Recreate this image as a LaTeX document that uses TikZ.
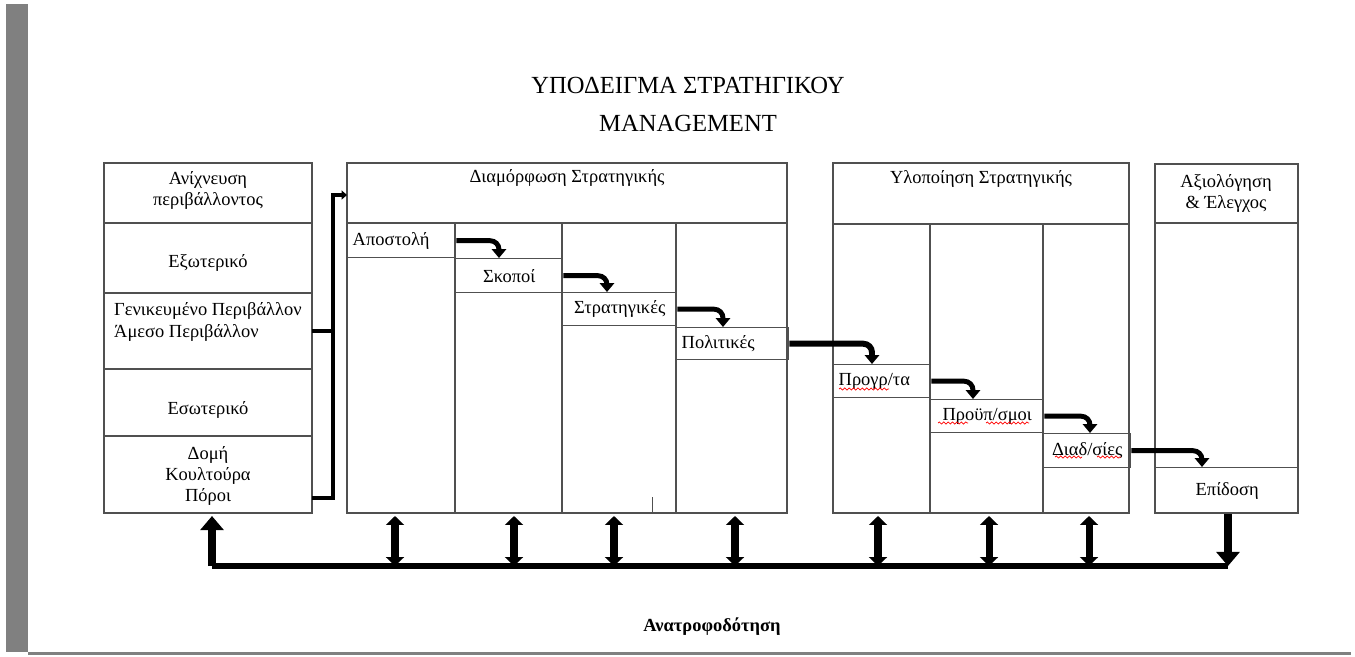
\documentclass[tikz,border=0pt]{standalone}
\usepackage{fontspec}
\setmainfont{Liberation Serif}
\usetikzlibrary{arrows.meta,decorations.pathmorphing}
\definecolor{pagegray}{HTML}{808080}
\definecolor{boxline}{HTML}{505050}

\tikzset{
  frame/.style={draw=boxline, line width=0.8pt},
  cell/.style={draw=boxline, line width=0.8pt, inner sep=0pt, anchor=north west},
  leftcell/.style={cell, align=left, inner xsep=0.1cm, text width=#1},
  flow/.style={line width=2.8pt, rounded corners=5pt, -{Triangle[length=5pt,width=8pt]}},
  link/.style={line width=2.2pt},
  both/.style={line width=4pt, {Triangle[length=5pt,width=10pt]}-{Triangle[length=5pt,width=10pt]}},
  big/.style={line width=4.8pt, -{Triangle[length=8pt,width=13pt]}},
  typo/.style={red, line width=0.4pt, decorate, decoration={snake, amplitude=0.6pt, segment length=2.5pt}}
}

\begin{document}
\begin{tikzpicture}[x=0.02cm, y=-0.02cm, font=\fontsize{10.5}{12}\selectfont]
\useasboundingbox (0,0) rectangle (1355,656);
\fill[pagegray] (6,4) rectangle (28,652);
\fill[pagegray] (28,652) rectangle (1351,655);

% title
\node (title) at (688,85) {\fontsize{14}{16}\selectfont ΥΠΟΔΕΙΓΜΑ ΣΤΡΑΤΗΓΙΚΟΥ};
\node (mgmt) at (688,123) {\fontsize{14}{16}\selectfont MANAGEMENT};

% environment scanning
\draw[frame] (104,163) rectangle (312,513);
\foreach \y in {223,293,369,436}
{
    \draw[frame] (104,\y)--(312,\y);
}
\node[align=center] (scan) at (208,190) {Ανίχνευση\\περιβάλλοντος};
\node (ext) at (208,263) {Εξωτερικό};
\node[align=left,anchor=west] (gen) at (108,322) {Γενικευμένο Περιβάλλον\\Άμεσο Περιβάλλον};
\node (int) at (208,410) {Εσωτερικό};
\node[align=center] (res) at (208,476) {Δομή\\Κουλτούρα\\Πόροι};

% strategy formulation
\draw[frame] (347,163) rectangle (787,513);
\draw[frame] (347,223)--(787,223);
\foreach \x in {455,562,676}
{
    \draw[frame] (\x,223)--(\x,513);
}
\draw[boxline,line width=0.4pt] (652,497)--(652,513);
\node (form) at (567,178) {Διαμόρφωση Στρατηγικής};
\node[leftcell=1.96cm, minimum height=0.68cm] (apost) at (347,223) {Αποστολή};
\node[cell, minimum width=2.14cm, minimum height=0.68cm] (skopoi) at (455,258) {Σκοποί};
\node[cell, minimum width=2.28cm, minimum height=0.66cm] (strat) at (562,292) {Στρατηγικές};
\node[leftcell=2.04cm, minimum height=0.64cm] (polit) at (676,327) {Πολιτικές};

% strategy implementation
\draw[frame] (833,163) rectangle (1129,513);
\draw[frame] (833,224)--(1129,224);
\foreach \x in {930,1043}
{
    \draw[frame] (\x,224)--(\x,513);
}
\node (impl) at (981,179) {Υλοποίηση Στρατηγικής};
\node[leftcell=1.74cm, minimum height=0.66cm] (progr) at (833,364) {Προγρ/τα};
\node[cell, minimum width=2.26cm, minimum height=0.66cm] (budget) at (930,399) {Προϋπ/σμοι};
\node[cell, minimum width=1.74cm, minimum height=0.68cm] (proc) at (1043,433) {Διαδ/σίες};

% evaluation and control
\draw[frame] (1155,164) rectangle (1298,513);
\draw[frame] (1155,223)--(1298,223);
\node[align=center] (eval) at (1226,193) {Αξιολόγηση\\\& Έλεγχος};
\node[cell, minimum width=2.86cm, minimum height=0.92cm] (perf) at (1155,467) {Επίδοση};

% spell-check marks
\draw[typo] (839,389)--(889,389);
\draw[typo] (938,423)--(968,423);
\draw[typo] (986,423)--(1029,423);
\draw[typo] (1055,457)--(1082,457);
\draw[typo] (1097,457)--(1121,457);

% links from the environment
\coordinate (genR) at (312,331);
\coordinate (resR) at (312,498);
\coordinate (bus) at (333,195);
\coordinate (formL) at (347,195);
\draw[link] (genR)--(genR -| bus);
\draw[link,-{Triangle[length=3pt,width=5pt]}] (resR) -| (bus)--(formL);

% step arrows
\draw[flow] (apost.east) -| ([xshift=0.88cm]skopoi.north west);
\draw[flow] (skopoi.east) -| ([xshift=0.9cm]strat.north west);
\draw[flow] (strat.east) -| ([xshift=0.94cm]polit.north west);
\draw[flow,line width=3.4pt] (polit.east) -| ([xshift=0.78cm]progr.north west);
\draw[flow] (progr.east) -| ([xshift=0.86cm]budget.north west);
\draw[flow] (budget.east) -| ([xshift=0.94cm]proc.north west);
\draw[flow] (proc.east) -| ([xshift=0.94cm]perf.north west);

% feedback
\coordinate (fbL) at (212,566);
\coordinate (fbR) at (1228,566);
\draw[line width=3pt] (fbL)--(fbR);
\draw[big] (fbL)--(212,516);
\draw[big] (perf.south -| fbR)--(fbR);
\foreach \x in {395,514,614,735,878,989,1089}
{
    \draw[both] (\x,516)--(\x,566);
}
\node[font=\fontsize{10.5}{12}\selectfont\bfseries] (feedback) at (712,627) {Ανατροφοδότηση};

\end{tikzpicture}
\end{document}
